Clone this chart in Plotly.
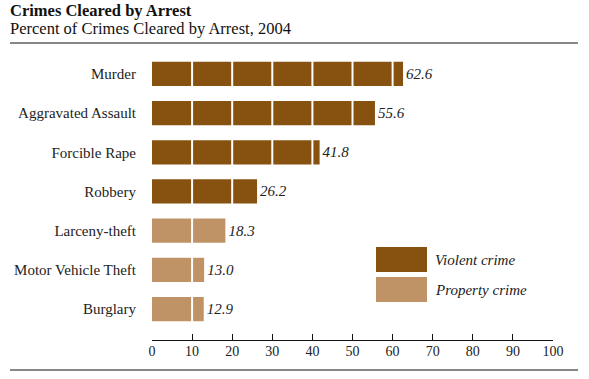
import plotly.graph_objects as go

categories = ["Burglary", "Motor Vehicle Theft", "Larceny-theft", "Robbery",
              "Forcible Rape", "Aggravated Assault", "Murder"]
values = [12.9, 13.0, 18.3, 26.2, 41.8, 55.6, 62.6]
crime_type = ["Property", "Property", "Property", "Violent", "Violent", "Violent", "Violent"]
x_ticks = [0, 10, 20, 30, 40, 50, 60, 70, 80, 90, 100]

VIOLENT = "#87520F"
PROPERTY = "#BF9366"
SERIF = "Liberation Serif, Times New Roman, serif"
BAR_W = 0.62

colors = [VIOLENT if t == "Violent" else PROPERTY for t in crime_type]

W, H = 589, 379
L, T = 152, 50
pw, ph = 401, 290
R = W - L - pw
B = H - T - ph

def px_x(px):
    return (px - L) / pw

def px_y(py):
    return (T + ph - py) / ph

fig = go.Figure()
fig.add_trace(go.Bar(
    x=values, y=categories, orientation="h",
    marker=dict(color=colors, line=dict(width=0)),
    width=BAR_W,
    text=[f"{v:.1f}" for v in values],
    textposition="outside",
    textfont=dict(family=SERIF, size=15, color="#222"),
    texttemplate="<i>%{text}</i>",
    cliponaxis=False,
    hoverinfo="skip",
))

shapes = []
# white divider lines inside each bar at every tick it passes
for i, v in enumerate(values):
    for t in x_ticks[1:-1]:
        if t < v:
            shapes.append(dict(type="line", xref="x", yref="y", x0=t, x1=t,
                               y0=i - BAR_W / 2 - 0.02, y1=i + BAR_W / 2 + 0.02,
                               line=dict(color="white", width=2), layer="above"))
# top and bottom rules
for py in (43, 370):
    shapes.append(dict(type="line", xref="paper", yref="paper",
                       x0=px_x(10), x1=px_x(578), y0=px_y(py), y1=px_y(py),
                       line=dict(color="#111", width=1.2), layer="above"))
# legend boxes
for (y0, y1, c) in [(247, 272, VIOLENT), (277, 302, PROPERTY)]:
    shapes.append(dict(type="rect", xref="paper", yref="paper",
                       x0=px_x(376), x1=px_x(427), y0=px_y(y1), y1=px_y(y0),
                       fillcolor=c, line=dict(width=0), layer="above"))

annotations = [
    dict(text="<b>Crimes Cleared by Arrest</b>", xref="paper", yref="paper",
         x=px_x(9), y=px_y(10.5), xanchor="left", yanchor="middle", showarrow=False,
         borderpad=0, font=dict(family=SERIF, size=16.5, color="#111")),
    dict(text="Percent of Crimes Cleared by Arrest, 2004", xref="paper", yref="paper",
         x=px_x(9), y=px_y(28), xanchor="left", yanchor="middle", showarrow=False,
         borderpad=0, font=dict(family=SERIF, size=16.5, color="#111")),
    dict(text="<i>Violent crime</i>", xref="paper", yref="paper",
         x=px_x(433), y=px_y(259.5), xanchor="left", yanchor="middle", showarrow=False,
         font=dict(family=SERIF, size=15, color="#222")),
    dict(text="<i>Property crime</i>", xref="paper", yref="paper",
         x=px_x(433), y=px_y(289.5), xanchor="left", yanchor="middle", showarrow=False,
         font=dict(family=SERIF, size=15, color="#222")),
]

fig.update_layout(
    width=W, height=H,
    margin=dict(l=L, r=R, t=T, b=B, pad=0),
    paper_bgcolor="white", plot_bgcolor="white",
    showlegend=False,
    shapes=shapes,
    annotations=annotations,
    xaxis=dict(range=[0, 100], tickvals=x_ticks, ticktext=[str(t) for t in x_ticks],
               showgrid=False, zeroline=False, showline=True, linecolor="#111", linewidth=1.2,
               ticks="inside", ticklen=6, tickcolor="#111", tickwidth=1.2,
               ticklabelstandoff=-2,
               tickfont=dict(family=SERIF, size=14, color="#222"), fixedrange=True),
    yaxis=dict(range=[-0.79, 6.61], showgrid=False, zeroline=False, showline=False,
               ticks="", ticklabelstandoff=15,
               tickfont=dict(family=SERIF, size=15, color="#222"), fixedrange=True),
)

fig.write_html("out.html", config={"displayModeBar": False},
               post_script="document.body.style.margin='0';document.body.style.overflow='hidden';")
